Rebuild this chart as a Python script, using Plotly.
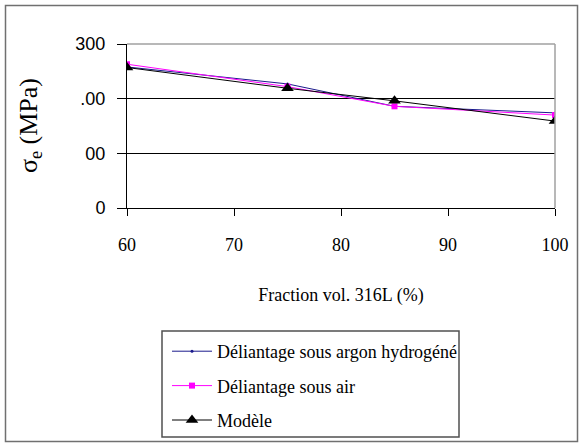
import plotly.graph_objects as go

fraction = [60, 75, 85, 100]
argon = [258, 227, 186, 174]
air = [263, 222, 186, 170]
modele = [257, 219, 196, 159]

y_tickvals = [0, 100, 200, 300]
y_ticktext = ["0", "00", ".00", "300"]
x_tickvals = [60, 70, 80, 90, 100]

W, H = 581, 446
L, R, T, B = 127, 26, 44, 238
pw, ph = W - L - R, H - T - B


def px(x):
    return (x - L) / pw


def py(y):
    return (H - B - y) / ph


serif = "Liberation Serif, DejaVu Serif, serif"

fig = go.Figure()
fig.add_trace(go.Scatter(x=fraction, y=argon, mode="lines+markers", name="Déliantage sous argon hydrogéné",
                         line=dict(color="#1a1a8c", width=1), marker=dict(symbol="circle", size=3, color="#1a1a8c"),
                         legendgroup="a"))
fig.add_trace(go.Scatter(x=fraction, y=air, mode="lines+markers", name="Déliantage sous air",
                         line=dict(color="#ff00ff", width=1), marker=dict(symbol="square", size=6, color="#ff00ff"),
                         legendgroup="b"))
fig.add_trace(go.Scatter(x=fraction, y=modele, mode="lines+markers", name="Modèle",
                         line=dict(color="black", width=1), marker=dict(symbol="triangle-up", size=11, color="black"),
                         legendgroup="c"))

fig.update_layout(
    width=W, height=H,
    margin=dict(l=L, r=R, t=T, b=B, autoexpand=False),
    paper_bgcolor="white", plot_bgcolor="white",
    font=dict(family=serif, size=18, color="black"),
    showlegend=True,
    legend=dict(x=px(167), y=py(333), xanchor="left", yanchor="top",
                bgcolor="rgba(0,0,0,0)", borderwidth=0, itemwidth=40,
                font=dict(family=serif, size=18), tracegroupgap=8),
    xaxis=dict(range=[60, 100], tickvals=x_tickvals, showgrid=False, zeroline=False,
               showline=True, linecolor="black", linewidth=1,
               ticks="outside", ticklen=7, tickcolor="black", ticklabelstandoff=13,
               tickfont=dict(family=serif, size=18),
               title=dict(text="Fraction vol. 316L (%)", font=dict(family=serif, size=18), standoff=34)),
    yaxis=dict(range=[0, 300], tickvals=y_tickvals, ticktext=y_ticktext,
               showgrid=True, gridcolor="black", gridwidth=1, zeroline=False,
               showline=True, linecolor="black", linewidth=1,
               ticks="outside", ticklen=9, tickcolor="black", ticklabelstandoff=8,
               tickfont=dict(family="Liberation Sans Narrow, Liberation Sans, sans-serif", size=18)),
    shapes=[
        dict(type="line", xref="paper", yref="paper", x0=0, x1=1, y0=1, y1=1,
             line=dict(color="#a0a0a0", width=1.5)),
        dict(type="line", xref="paper", yref="paper", x0=1, x1=1, y0=0, y1=1,
             line=dict(color="#a0a0a0", width=1.5)),
        dict(type="rect", xref="paper", yref="paper", x0=px(5.5), x1=px(577.5), y0=py(441.5), y1=py(5.5),
             line=dict(color="#707070", width=1.5), layer="below"),
        dict(type="rect", xref="paper", yref="paper", x0=px(162), x1=px(459), y0=py(437), y1=py(331),
             line=dict(color="#505050", width=1.5)),
    ],
    annotations=[
        dict(text="σ<sub>e</sub> (MPa)", xref="paper", yref="paper", x=px(30), y=0.5,
             xanchor="center", yanchor="middle", textangle=-90, showarrow=False,
             font=dict(family=serif, size=26)),
    ],
)

fig.write_html("out.html", config={"displayModeBar": False},
               post_script="document.body.style.margin='0';")
